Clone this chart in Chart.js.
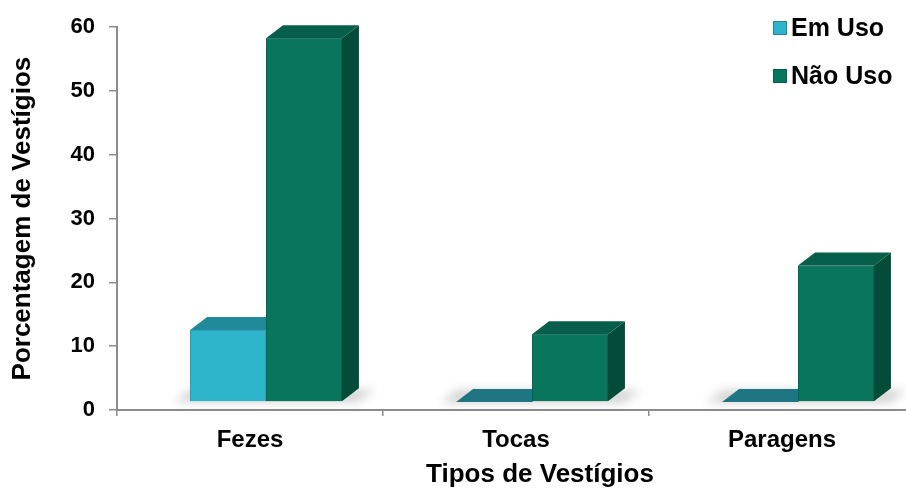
<!DOCTYPE html>
<html>
<head>
<meta charset="utf-8">
<script src="https://cdn.jsdelivr.net/npm/chart.js@4.4.1/dist/chart.umd.min.js"></script>
<style>
  html, body { margin: 0; padding: 0; background: #fff; overflow: hidden; }
  /* the category axis runs a little past the right edge of the window */
  #wrap { width: 915px; height: 490px; position: relative; }
</style>
</head>
<body>
<div id="wrap"><canvas id="vestigiosChart"></canvas></div>
<script>
const categories = ["Fezes", "Tocas", "Paragens"];
const seriesNames = ["Em Uso", "Não Uso"];
const emUso = [11.3, 0, 0];
const naoUso = [57, 10.6, 21.4];
const yTicks = [0, 10, 20, 30, 40, 50, 60];

const FONT = "'Liberation Sans', Arial, Helvetica, sans-serif";
const AXIS = "#8c8c8c";

// front / top / side shades of each column colour
const palettes = [
  { front: "#2eb5cc", border: "#27a2b7", top: "#22899a", flat: "#1f7581", side: "#1b7d8c" },
  { front: "#09755c", border: "#066550", top: "#075e4a", flat: "#075e4a", side: "#044c3a" },
];

// fake perspective: depth of each column and offset of the columns from the axes
const DEPTH_X = 17;
const DEPTH_Y = -13;
const SHIFT_X = 16;
const SHIFT_Y = -8;

function fillPoly(ctx, points) {
  ctx.beginPath();
  ctx.moveTo(points[0][0], points[0][1]);
  points.slice(1).forEach(([x, y]) => ctx.lineTo(x, y));
  ctx.closePath();
  ctx.fill();
}

function drawFaces(ctx, bar, pal) {
  const l = bar.x - bar.width / 2;
  const r = bar.x + bar.width / 2;
  const top = Math.min(bar.y, bar.base);
  const base = bar.base;
  const solid = base - top > 0.5;
  if (solid) {
    ctx.fillStyle = pal.side;
    fillPoly(ctx, [[r, top], [r + DEPTH_X, top + DEPTH_Y], [r + DEPTH_X, base + DEPTH_Y], [r, base]]);
  }
  ctx.fillStyle = solid ? pal.top : pal.flat;
  fillPoly(ctx, [[l, top], [l + DEPTH_X, top + DEPTH_Y], [r + DEPTH_X, top + DEPTH_Y], [r, top]]);
}

const columns3d = {
  id: "columns3d",
  beforeDatasetsDraw(chart) {
    const ctx = chart.ctx;
    ctx.save();
    ctx.translate(SHIFT_X, SHIFT_Y);

    // soft shadow on the floor under each group
    const first = chart.getDatasetMeta(0).data;
    const last = chart.getDatasetMeta(1).data;
    first.forEach((bar, i) => {
      const l = bar.x - bar.width / 2 - 16;
      const r = last[i].x + last[i].width / 2 + 16;
      const b = bar.base + 1;
      ctx.save();
      ctx.filter = "blur(5px)";
      ctx.fillStyle = "rgba(0,0,0,0.17)";
      fillPoly(ctx, [[l, b], [r, b], [r + DEPTH_X, b + DEPTH_Y], [l + DEPTH_X, b + DEPTH_Y]]);
      ctx.restore();
    });
  },
  afterDatasetsDraw(chart) {
    const ctx = chart.ctx;
    // left series first so the right column hides its top and side
    chart.data.datasets.forEach((ds, i) => {
      chart.getDatasetMeta(i).data.forEach((bar) => {
        bar.draw(ctx);
        drawFaces(ctx, bar, palettes[i]);
      });
    });
    ctx.restore();
  },
  afterDraw(chart) {
    const ctx = chart.ctx;
    ctx.save();

    // legend, stacked in the top right corner
    ctx.font = `bold 25px ${FONT}`;
    ctx.textBaseline = "middle";
    ctx.textAlign = "left";
    chart.data.datasets.forEach((ds, i) => {
      const y = 28 + i * 48;
      const pal = palettes[i];
      ctx.fillStyle = pal.front;
      ctx.fillRect(773, y - 7, 14, 14);
      ctx.strokeStyle = pal.top;
      ctx.lineWidth = 1;
      ctx.strokeRect(773.5, y - 6.5, 13, 13);
      ctx.fillStyle = "#000";
      ctx.fillText(ds.label, 791, y + 1);
    });

    // category axis title
    ctx.font = `bold 26px ${FONT}`;
    ctx.textAlign = "center";
    ctx.fillText("Tipos de Vestígios", 540, 475);
    ctx.restore();
  },
};

const seriesValues = [emUso, naoUso];

new Chart(document.getElementById("vestigiosChart"), {
  type: "bar",
  data: {
    labels: categories,
    datasets: seriesNames.map((name, i) => ({
      label: name,
      data: seriesValues[i],
      backgroundColor: palettes[i].front,
      borderColor: palettes[i].border,
      borderWidth: 1,
      barPercentage: 1,
      categoryPercentage: 0.571,
    })),
  },
  options: {
    responsive: true,
    maintainAspectRatio: false,
    animation: false,
    events: [],
    layout: { padding: { top: 21, right: 0, left: 0, bottom: 0 } },
    plugins: {
      legend: { display: false },
      tooltip: { enabled: false },
    },
    scales: {
      x: {
        grid: { offset: true, drawOnChartArea: false, drawTicks: true, tickLength: 6, color: AXIS, lineWidth: 1.5 },
        border: { color: AXIS, width: 2 },
        ticks: { color: "#000", padding: 10, font: { family: FONT, size: 24, weight: "bold" } },
        afterFit(scale) { scale.height = 80; },
      },
      y: {
        min: yTicks[0],
        max: yTicks[yTicks.length - 1],
        ticks: {
          stepSize: yTicks[1] - yTicks[0],
          color: "#000",
          padding: 14,
          font: { family: FONT, size: 22, weight: "bold" },
        },
        grid: { drawOnChartArea: false, drawTicks: true, tickLength: 8, color: AXIS, lineWidth: 1.5 },
        border: { color: AXIS, width: 2 },
        title: {
          display: true,
          text: "Porcentagem de Vestígios",
          color: "#000",
          font: { family: FONT, size: 26, weight: "bold" },
          padding: { top: 7, bottom: 0 },
        },
        afterFit(scale) { scale.width = 117; },
      },
    },
  },
  plugins: [columns3d],
});
</script>
</body>
</html>
